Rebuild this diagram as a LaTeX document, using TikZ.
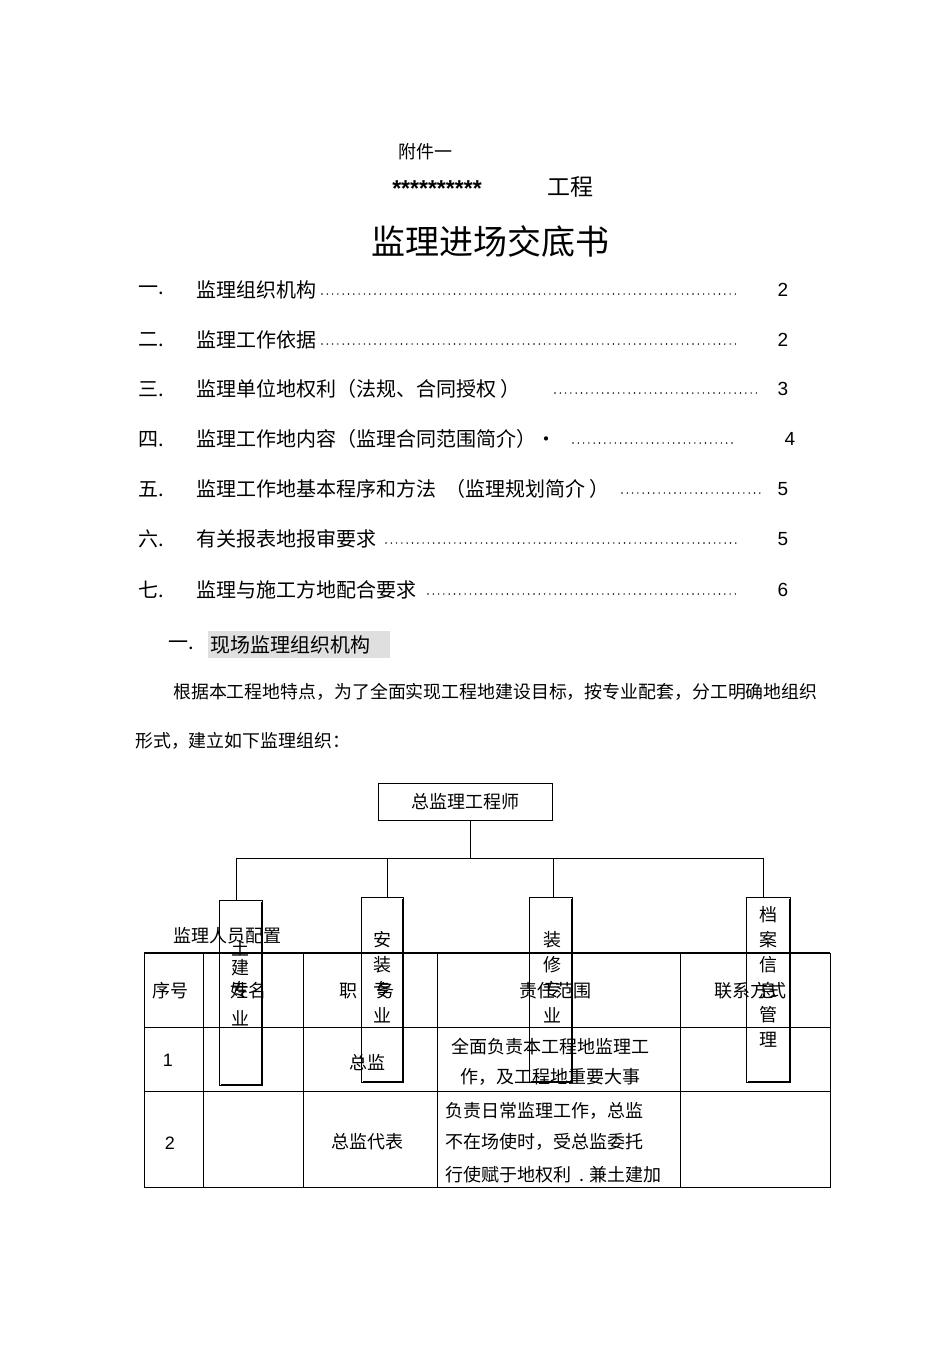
\documentclass[tikz,border=0pt]{standalone}
\usepackage{fontspec}
\setmainfont{Liberation Sans}
\newfontfamily\cjk{Noto Sans CJK SC}
\begin{document}
\begin{tikzpicture}[x=1pt,y=-1pt,
  txt/.style={inner sep=0pt,font=\cjk\fontsize{18}{20}\selectfont},
  lt/.style={txt,anchor=west},
  toc/.style={lt,font=\cjk\fontsize{20}{22}\selectfont},
  dotl/.style={line width=1.6pt,line cap=round,dash pattern=on 0pt off 5.3pt},
  vbox/.style={draw,line width=0.8pt},
  shad/.style={line width=2pt},
  ln/.style={line width=1pt}]
\useasboundingbox (0,0) rectangle (950,1345);
\node[txt] (fj) at (425,152) {附件一};
\node[txt,font=\bfseries\fontsize{23}{25}\selectfont] (st) at (437,189) {**********};
\node[txt,font=\cjk\fontsize{23}{25}\selectfont] (gc) at (570,187) {工程};
\node[txt,font=\cjk\fontsize{34}{38}\selectfont] (title) at (490,241) {监理进场交底书};
% TOC
\foreach \n/\t/\y/\dx/\ex/\p/\px in {
 一./监理组织机构/290/322/737/2/783,
 二./监理工作依据/340/322/737/2/783,
 三./{监理单位地权利（法规、合同授权 ）}/389/555/760/3/783,
 四./{监理工作地内容（监理合同范围简介）·}/439/573/737/4/790,
 五./{监理工作地基本程序和方法 \ （监理规划简介 ）}/489/622/765/5/783,
 六./有关报表地报审要求/539/386/737/5/783,
 七./监理与施工方地配合要求/590/428/737/6/783}{
  \node[toc] at (138,\y) {\n};
  \node[toc] at (196,\y) {\t};
  \draw[dotl] (\dx,\y+4) -- (\ex,\y+4);
  \node[txt,font=\fontsize{19}{20}\selectfont] at (\px,\y) {\p};
}
\fill[gray!25] (208,631) rectangle (390,658);
\node[toc] (h1) at (168,645) {一.};
\node[toc] (h2) at (210,645) {现场监理组织机构};
\node[lt,font=\cjk\fontsize{17.9}{20}\selectfont] (p1) at (173,692) {根据本工程地特点，为了全面实现工程地建设目标，按专业配套，分工明确地组织};
\node[lt,font=\cjk\fontsize{17.9}{20}\selectfont] (p2) at (135,741) {形式，建立如下监理组织：};
% org chart
\node[draw,line width=0.8pt,minimum width=174pt,minimum height=37pt,txt,inner sep=0pt] (top) at (465,801.5) {总监理工程师};
\coordinate (j) at (470,858);
\draw[ln] (470,820) -- (j);
\draw[ln] (236,858) -- (763,858);
\foreach \x/\yb/\xa/\xb/\ya/\ybb/\nm in {236/900/219/262/900/1085/a,387/897/361/403/897/1082/b,553/897/529/572/897/1082/c,763/897/746/790/897/1082/d}{
  \draw (\x,858) -- (\x,\yb);
  \draw[vbox] (\xa,\ya) rectangle (\xb,\ybb);
  \draw[shad] (\xb,\ya+2) -- (\xb,\ybb) -- (\xa+2,\ybb);
}
\foreach \c/\y in {土/948,建/968,专/990,业/1018}{\node[txt] at (240,\y) {\c};}
\foreach \c/\y in {安/940,装/965,专/990,业/1015}{\node[txt] at (382,\y) {\c};}
\foreach \c/\y in {装/940,修/965,专/990,业/1015}{\node[txt] at (552,\y) {\c};}
\foreach \c/\y in {档/915,案/940,信/965,息/990,管/1015,理/1040}{\node[txt] at (768,\y) {\c};}
\node[lt] (cap) at (173,936) {监理人员配置};
% table
\draw[line width=2.5pt] (144,953) -- (830,953);
\draw[line width=1pt] (144,953) -- (144,1187) -- (830,1187) -- (830,953);
\foreach \x in {203,303,437,680}{\draw (\x,953) -- (\x,1187);}
\draw (144,1027) -- (830,1027);
\draw (144,1091) -- (830,1091);
\node[txt] at (170,991) {序号};
\node[txt] at (248,991) {姓名};
\node[txt] at (348,991) {职};
\node[txt] at (385,991) {务};
\node[txt] at (555,991) {责任范围};
\node[txt] at (750,991) {联系方式};
\node[txt,font=\fontsize{18}{20}\selectfont] at (168,1060) {1};
\node[txt] at (367,1063) {总监};
\node[txt] at (550,1047) {全面负责本工程地监理工};
\node[txt] at (550,1077) {作，及工程地重要大事};
\node[txt,font=\fontsize{18}{20}\selectfont] at (170,1143) {2};
\node[txt] at (367,1142) {总监代表};
\node[lt] at (445,1111) {负责日常监理工作，总监};
\node[lt] at (445,1142) {不在场使时，受总监委托};
\node[lt] at (445,1175) {行使赋于地权利 \ . 兼土建加};
\end{tikzpicture}
\end{document}
